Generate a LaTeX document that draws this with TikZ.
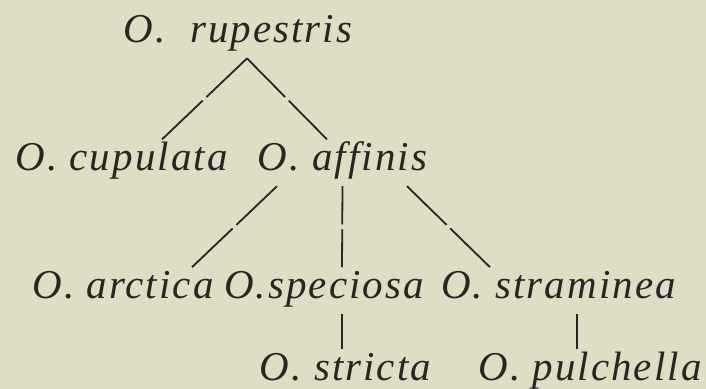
\documentclass[tikz,border=0pt]{standalone}
\usepackage{fontspec}
\setmainfont{Liberation Serif}[LetterSpace=5.0]
\usepackage{xcolor}
\usepackage{tikz}
\usetikzlibrary{positioning, decorations.markings}
\definecolor{paper}{RGB}{222,221,198}
\definecolor{ink}{RGB}{38,38,34}
\tikzstyle{taxon} = [inner sep=0pt, text height=15.5pt, text depth=7.5pt, font=\fontsize{20.5}{24}\selectfont\itshape, text=ink]
\tikzstyle{stem} = [draw=ink, line width=0.9pt]
\tikzstyle{branch} = [stem, postaction={decorate}, decoration={markings, mark=at position 0.5 with {\fill[paper] (-1.2pt,-1pt) rectangle (1.2pt,1pt);}}]

\begin{document}
\begin{tikzpicture}[node distance=40.5pt]

        % Paper
        \useasboundingbox (-119pt,17.5pt) rectangle (234pt,-177pt);
        \fill[paper] (-119pt,17.5pt) rectangle (234pt,-177pt);

        % Root
        \node (rupestris) [taxon] {O.\ \ rupestris};

        % Second row
        \node (cupulata) [taxon, below=of rupestris, xshift=-58.25pt] {O. cupulata};
        \node (affinis) [taxon, below=of rupestris, xshift=52.25pt] {O. affinis};

        % Third row
        \node (arctica) [taxon, below=of cupulata, xshift=0.75pt] {O. arctica};
        \node (speciosa) [taxon, below=of affinis, xshift=-9.25pt] {O.speciosa};
        \node (straminea) [taxon, below=of affinis, xshift=108pt] {O. straminea};

        % Fourth row
        \node (stricta) [taxon, below=17.5pt of speciosa, xshift=10.75pt] {O. stricta};
        \node (pulchella) [taxon, below=17.5pt of straminea, xshift=15.75pt] {O. pulchella};

        % Connectors
        \draw [branch] ([xshift=4.5pt]rupestris.south) -- ([xshift=20.25pt]cupulata.north);
        \draw [branch] ([xshift=4.5pt]rupestris.south) -- ([xshift=-7.75pt]affinis.north);

        \draw [branch] ([xshift=-32.75pt]affinis.south) -- ([xshift=34.5pt]arctica.north);
        \draw [branch] (affinis.south) -- ([xshift=9pt]speciosa.north);
        \draw [branch] ([xshift=32.25pt]affinis.south) -- ([xshift=-34.25pt]straminea.north);

        \draw [stem] ([xshift=9pt]speciosa.south) -- ([xshift=-1.75pt]stricta.north);
        \draw [stem] ([xshift=9.25pt]straminea.south) -- ([xshift=-6.5pt]pulchella.north);

    \end{tikzpicture}
\end{document}
